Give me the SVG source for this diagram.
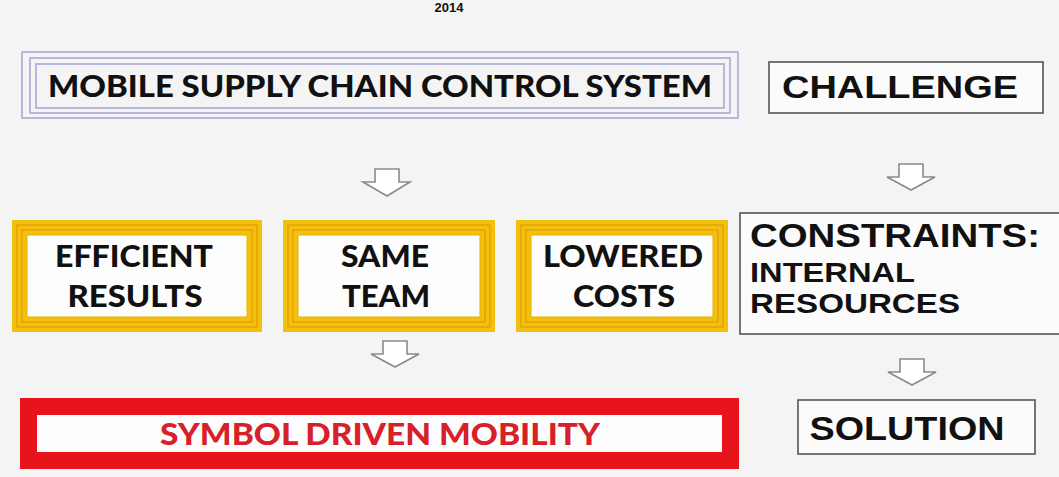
<svg xmlns="http://www.w3.org/2000/svg" width="1059" height="477" viewBox="0 0 1059 477">
<defs>
<style>
.arrow{fill:#ffffff;stroke:#8a8a8a;stroke-width:1.6;stroke-linejoin:miter}
.cal{font-family:Lato,"Open Sans","Liberation Sans",sans-serif;font-weight:900;fill:#111}
.ari{font-family:"Liberation Sans",Arial,sans-serif;font-weight:bold;fill:#111}
.lav{fill:none;stroke:#a9a9d6;stroke-width:1.6}
.gold{fill:none;stroke:#f3c010}
.goldline{fill:none;stroke:#e39a00;stroke-width:1.2}
.plain{fill:#fbfbfb;stroke:#555;stroke-width:1.6}
</style>
</defs>
<rect x="0" y="0" width="1059" height="477" fill="#f4f4f4"/>
<text x="449" y="12" class="ari" font-size="13" text-anchor="middle" fill="#222">2014</text>

<g id="mobile-supply-chain">
<rect x="22" y="52" width="716" height="66" fill="#fafafa" class="lav"/>
<rect x="30" y="58" width="700" height="55" class="lav"/>
<rect x="36" y="64" width="688" height="44" class="lav"/>
<text x="380" y="97" class="cal" font-size="31" text-anchor="middle" textLength="664" lengthAdjust="spacingAndGlyphs">MOBILE SUPPLY CHAIN CONTROL SYSTEM</text>
</g>

<g id="challenge">
<rect x="769" y="62" width="274" height="51" class="plain"/>
<text x="900" y="98" class="ari" font-size="32" text-anchor="middle" textLength="236" lengthAdjust="spacingAndGlyphs">CHALLENGE</text>
</g>

<g id="efficient-results">
<rect x="19.5" y="227.5" width="235" height="97" fill="#fdfdfd" class="gold" stroke-width="15"/>
<rect x="17" y="225" width="240" height="102" class="goldline"/>
<rect x="22" y="230" width="230" height="92" class="goldline"/>
<rect x="27" y="235" width="220" height="82" fill="#fdfdfd" stroke="#e8b000" stroke-width="1"/>
<text x="134" y="267" class="cal" font-size="30" text-anchor="middle" textLength="158" lengthAdjust="spacingAndGlyphs">EFFICIENT</text>
<text x="135" y="307" class="cal" font-size="30" text-anchor="middle" textLength="135" lengthAdjust="spacingAndGlyphs">RESULTS</text>
</g>

<g id="same-team">
<rect x="290.5" y="227.5" width="197" height="97" fill="#fdfdfd" class="gold" stroke-width="15"/>
<rect x="288" y="225" width="202" height="102" class="goldline"/>
<rect x="293" y="230" width="192" height="92" class="goldline"/>
<rect x="298" y="235" width="182" height="82" fill="#fdfdfd" stroke="#e8b000" stroke-width="1"/>
<text x="385" y="267" class="cal" font-size="30" text-anchor="middle" textLength="88" lengthAdjust="spacingAndGlyphs">SAME</text>
<text x="386" y="307" class="cal" font-size="30" text-anchor="middle" textLength="88" lengthAdjust="spacingAndGlyphs">TEAM</text>
</g>

<g id="lowered-costs">
<rect x="523.5" y="227.5" width="197" height="97" fill="#fdfdfd" class="gold" stroke-width="15"/>
<rect x="521" y="225" width="202" height="102" class="goldline"/>
<rect x="526" y="230" width="192" height="92" class="goldline"/>
<rect x="531" y="235" width="182" height="82" fill="#fdfdfd" stroke="#e8b000" stroke-width="1"/>
<text x="623" y="267" class="cal" font-size="30" text-anchor="middle" textLength="160" lengthAdjust="spacingAndGlyphs">LOWERED</text>
<text x="624" y="307" class="cal" font-size="30" text-anchor="middle" textLength="102" lengthAdjust="spacingAndGlyphs">COSTS</text>
</g>

<g id="constraints">
<rect x="740" y="213" width="330" height="121" class="plain"/>
<text x="750" y="247" class="ari" font-size="33" textLength="290" lengthAdjust="spacingAndGlyphs">CONSTRAINTS:</text>
<text x="750" y="282" class="ari" font-size="28" textLength="165" lengthAdjust="spacingAndGlyphs">INTERNAL</text>
<text x="750" y="313" class="ari" font-size="28" textLength="210" lengthAdjust="spacingAndGlyphs">RESOURCES</text>
</g>

<g id="symbol-driven-mobility">
<rect x="28.5" y="406.5" width="702" height="54" fill="#fdfdfd" stroke="#e8141c" stroke-width="17"/>
<text x="380" y="445" class="cal" font-size="30" style="fill:#d8202a" text-anchor="middle" textLength="440" lengthAdjust="spacingAndGlyphs">SYMBOL DRIVEN MOBILITY</text>
</g>

<g id="solution">
<rect x="798" y="400" width="237" height="54" class="plain"/>
<text x="907" y="440" class="ari" font-size="33" text-anchor="middle" textLength="195" lengthAdjust="spacingAndGlyphs">SOLUTION</text>
</g>

<g id="connectors">
<path class="arrow" d="M375 169 H399 V182 H410 L387 196 L363 182 H375 Z"/>
<path class="arrow" d="M899 164 H923 V177 H935 L911 190 L887 177 H899 Z"/>
<path class="arrow" d="M383 341 H407 V354 H419 L395 367 L371 354 H383 Z"/>
<path class="arrow" d="M900 359 H924 V372 H936 L912 385 L888 372 H900 Z"/>
</g>
</svg>
